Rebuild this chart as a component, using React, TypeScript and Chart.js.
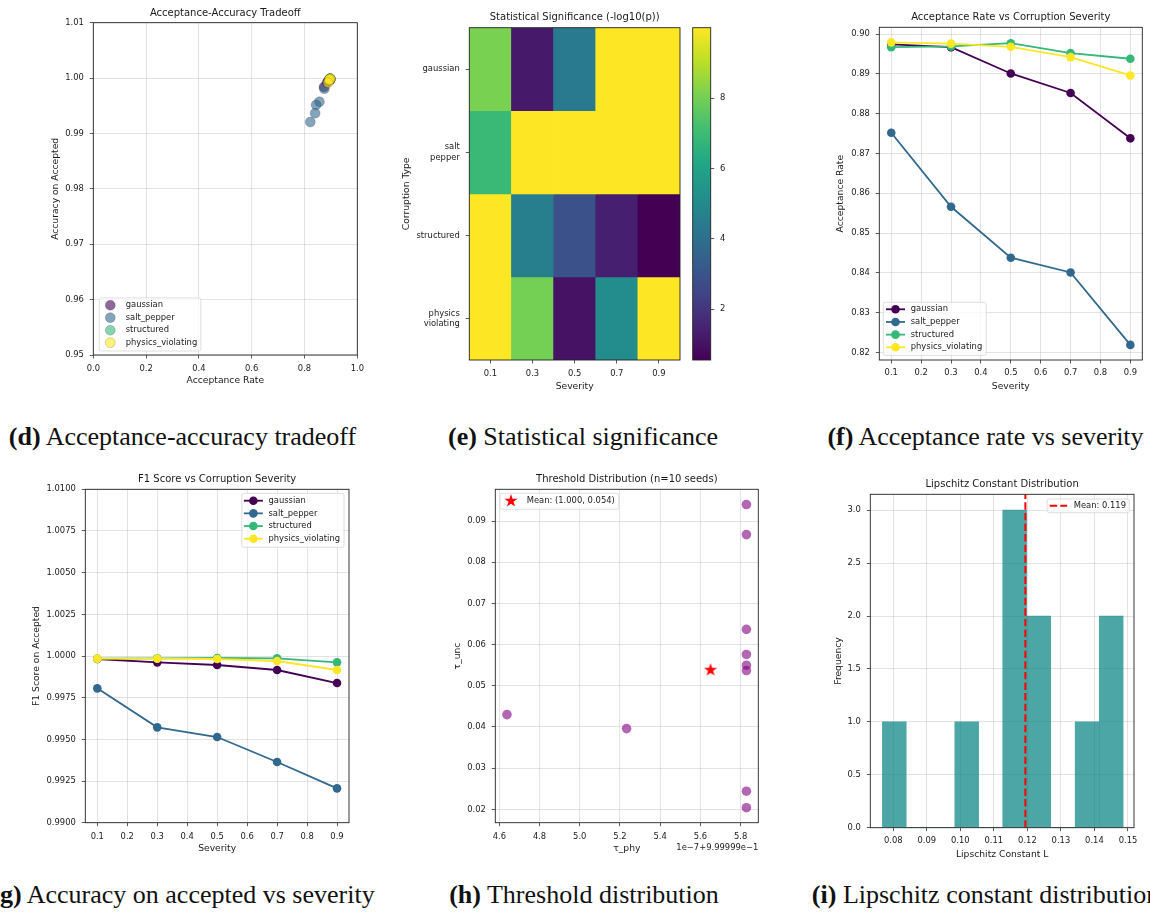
import React, { useEffect, useRef } from 'react';
import { Chart, registerables } from 'chart.js';
Chart.register(...registerables);

// ---------------- DATA ----------------
const corruptionTypes = ['gaussian', 'salt_pepper', 'structured', 'physics_violating'];
const severities = [0.1, 0.3, 0.5, 0.7, 0.9];
const severityLabels = ['0.1', '0.3', '0.5', '0.7', '0.9'];

// acceptance rate per severity
const accGaussian = [0.8974, 0.8967, 0.8901, 0.8852, 0.8738];
const accSaltPepper = [0.8752, 0.8566, 0.8438, 0.8401, 0.8219];
const accStructured = [0.8967, 0.8969, 0.8977, 0.8952, 0.8938];
const accPhysics = [0.8979, 0.8976, 0.8968, 0.8942, 0.8896];

// accuracy / F1 on accepted per severity
const f1Gaussian = [0.99982, 0.99962, 0.99946, 0.99916, 0.99838];
const f1SaltPepper = [0.99806, 0.99572, 0.99514, 0.99364, 0.99206];
const f1Structured = [0.99984, 0.99986, 0.99988, 0.99986, 0.99962];
const f1Physics = [0.99984, 0.99984, 0.99982, 0.9997, 0.99916];

// -log10(p) heatmap rows
const sigGaussian = [8.1, 1.2, 4.4, 10.0, 10.0];
const sigSaltPepper = [6.9, 10.0, 10.0, 10.0, 10.0];
const sigStructured = [10.0, 4.6, 2.9, 1.35, 0.55];
const sigPhysics = [10.0, 8.0, 1.0, 5.1, 10.0];

// thresholds over 10 seeds
const tauPhy = [0.9999994638, 0.9999995233, 0.9999995829, 0.9999995829, 0.9999995829,
  0.9999995829, 0.9999995829, 0.9999995829, 0.9999995829, 0.9999995829];
const tauUnc = [0.0430, 0.0396, 0.0940, 0.0867, 0.0637, 0.0576, 0.0550, 0.0537, 0.0244, 0.0204];

// Lipschitz histogram
const lipBinCenters = [0.0803, 0.0875, 0.0947, 0.1019, 0.1091, 0.1162, 0.1234, 0.1306, 0.1378, 0.1450];
const lipCounts = [1, 0, 0, 1, 0, 3, 2, 0, 1, 2];
const lipMean = 0.1194;

// tick values
const dXTicks = [0, 0.2, 0.4, 0.6, 0.8, 1.0];
const dYTicks = [0.95, 0.96, 0.97, 0.98, 0.99, 1.0, 1.01];
const sevTicks = [0.1, 0.2, 0.3, 0.4, 0.5, 0.6, 0.7, 0.8, 0.9];
const fYTicks = [0.82, 0.83, 0.84, 0.85, 0.86, 0.87, 0.88, 0.89, 0.90];
const gYTicks = [0.99, 0.9925, 0.995, 0.9975, 1.0, 1.0025, 1.005, 1.0075, 1.01];
const cbTicks = [2, 4, 6, 8];
const hXTicks = [0.99999946, 0.99999948, 0.9999995, 0.99999952, 0.99999954, 0.99999956, 0.99999958];
const hYTicks = [0.02, 0.03, 0.04, 0.05, 0.06, 0.07, 0.08, 0.09];
const iXTicks = [0.08, 0.09, 0.10, 0.11, 0.12, 0.13, 0.14, 0.15];
const iYTicks = [0, 0.5, 1.0, 1.5, 2.0, 2.5, 3.0];
const hOffset = 0.999999;
const hOffsetScale = 1e-7;

// ---------------- STYLE ----------------
const FONT = "'DejaVu Sans', 'Noto Sans', sans-serif";
const TXT = '#1a1a1a';
const TICK_FS = 8.4, LABEL_FS = 9.2, TITLE_FS = 10, LEG_FS = 8.4;
const LH = LABEL_FS * 1.2;
const GRID = 'rgba(176,176,176,0.35)';
const seriesColors = ['#440154', '#31688e', '#35b779', '#fde725'];
const VIRIDIS = [[68, 1, 84], [72, 36, 117], [65, 68, 135], [53, 95, 141], [42, 120, 142], [33, 145, 140],
  [34, 168, 132], [68, 191, 112], [122, 209, 81], [189, 223, 38], [253, 231, 37]];

function viridis(t: number) {
  t = Math.max(0, Math.min(1, t));
  const s = t * 10;
  const i = Math.min(9, Math.floor(s));
  const f = s - i;
  const a = VIRIDIS[i], b = VIRIDIS[i + 1];
  return `rgb(${Math.round(a[0] + (b[0] - a[0]) * f)},${Math.round(a[1] + (b[1] - a[1]) * f)},${Math.round(a[2] + (b[2] - a[2]) * f)})`;
}
function rgba(hex: string, a: number) {
  const n = parseInt(hex.slice(1), 16);
  return `rgba(${(n >> 16) & 255},${(n >> 8) & 255},${n & 255},${a})`;
}

let starCanvas: HTMLCanvasElement | null = null;
function getStar() {
  if (starCanvas) return starCanvas;
  const R = 6.9, size = 16;
  const c = document.createElement('canvas');
  c.width = size; c.height = size;
  const ctx = c.getContext('2d')!;
  ctx.translate(size / 2, size / 2);
  ctx.beginPath();
  for (let k = 0; k < 10; k++) {
    const ang = -Math.PI / 2 + k * Math.PI / 5;
    const r = k % 2 === 0 ? R : R * 0.382;
    const x = r * Math.cos(ang), y = r * Math.sin(ang);
    if (k === 0) ctx.moveTo(x, y); else ctx.lineTo(x, y);
  }
  ctx.closePath();
  ctx.fillStyle = 'red';
  ctx.fill();
  starCanvas = c;
  return c;
}

// ---------------- GEOMETRY ----------------
type Rect = { l: number; t: number; r: number; b: number };
function makeGeom(p: Rect, yTitleX: number, xTitleY: number) {
  const left = Math.floor(yTitleX - LH / 2) - 1;
  const top = Math.floor(p.t - 30);
  const right = Math.ceil(p.r + 18);
  const bottom = Math.ceil(xTitleY + LH / 2) + 1;
  return {
    left, top, width: right - left, height: bottom - top,
    padTop: p.t - top, padRight: right - p.r,
    yAxisW: p.l - left, xAxisH: bottom - p.b,
    yTitlePad: yTitleX - LH / 2 - left, xTitlePad: bottom - xTitleY - LH / 2,
  };
}
const gD = makeGeom({ l: 93.3, t: 22.7, r: 357.3, b: 355 }, 55.7, 381);
const gE = makeGeom({ l: 469.3, t: 27.7, r: 680, b: 360 }, 406.7, 386.7);
const gF = makeGeom({ l: 879.3, t: 27.3, r: 1142.3, b: 360 }, 840.7, 386.7);
const gG = makeGeom({ l: 85.3, t: 489.3, r: 349, b: 822.7 }, 36.7, 849);
const gH = makeGeom({ l: 495.3, t: 489.3, r: 758.3, b: 822.7 }, 457.7, 849);
const gI = makeGeom({ l: 870.3, t: 494.3, r: 1134, b: 827.7 }, 839, 854.3);
const cbPlot = { l: 692.7, t: 27.7, r: 710.7, b: 360 };
const gCB = {
  left: 684, top: 0, width: 60, height: 372,
  padLeft: cbPlot.l - 684, padTop: cbPlot.t, padBottom: 372 - cbPlot.b, yAxisW: 684 + 60 - cbPlot.r,
};

// ---------------- PLUGINS ----------------
const framePlugin = {
  id: 'mplFrame',
  afterDatasetsDraw(chart: any) {
    const { ctx, chartArea: ca } = chart;
    ctx.save();
    ctx.strokeStyle = '#222';
    ctx.lineWidth = 0.9;
    ctx.strokeRect(ca.left, ca.top, ca.right - ca.left, ca.bottom - ca.top);
    ctx.restore();
  },
};
const titlePlugin = {
  id: 'mplTitle',
  afterDraw(chart: any, _a: any, o: any) {
    if (!o || !o.text) return;
    const { ctx, chartArea: ca } = chart;
    ctx.save();
    ctx.font = `${TITLE_FS}px ${FONT}`;
    ctx.fillStyle = TXT;
    ctx.textAlign = 'center';
    ctx.textBaseline = 'middle';
    ctx.fillText(o.text, (ca.left + ca.right) / 2, ca.top + o.dy);
    ctx.restore();
  },
};
const offsetPlugin = {
  id: 'mplOffset',
  afterDraw(chart: any, _a: any, o: any) {
    if (!o || !o.text) return;
    const { ctx, chartArea: ca } = chart;
    ctx.save();
    ctx.font = `${TICK_FS}px ${FONT}`;
    ctx.fillStyle = TXT;
    ctx.textAlign = 'right';
    ctx.textBaseline = 'middle';
    ctx.fillText(o.text, ca.right, ca.bottom + o.dy);
    ctx.restore();
  },
};
const legendPlugin = {
  id: 'mplLegend',
  afterDraw(chart: any, _a: any, o: any) {
    if (!o || !o.loc) return;
    const ctx = chart.ctx, ca = chart.chartArea;
    const items = chart.data.datasets.filter((d: any) => d.label && !d.noLegend);
    if (!items.length) return;
    ctx.save();
    ctx.font = `${LEG_FS}px ${FONT}`;
    const maxW = Math.max(...items.map((d: any) => ctx.measureText(d.label).width));
    const w = o.textX + maxW + o.padR;
    const h = o.padT + o.rowH * (items.length - 1) + o.padB;
    let x0: number, y0: number;
    if (o.loc === 'lower left') { x0 = ca.left + o.dx; y0 = ca.bottom - o.dy - h; }
    else if (o.loc === 'upper left') { x0 = ca.left + o.dx; y0 = ca.top + o.dy; }
    else { x0 = ca.right - o.dx - w; y0 = ca.top + o.dy; }
    ctx.beginPath();
    const rr = 2;
    ctx.moveTo(x0 + rr, y0);
    ctx.arcTo(x0 + w, y0, x0 + w, y0 + h, rr);
    ctx.arcTo(x0 + w, y0 + h, x0, y0 + h, rr);
    ctx.arcTo(x0, y0 + h, x0, y0, rr);
    ctx.arcTo(x0, y0, x0 + w, y0, rr);
    ctx.closePath();
    ctx.fillStyle = 'rgba(255,255,255,0.8)';
    ctx.fill();
    ctx.strokeStyle = '#d6d6d6';
    ctx.lineWidth = 0.8;
    ctx.stroke();
    items.forEach((d: any, i: number) => {
      const y = y0 + o.padT + i * o.rowH;
      const cx = x0 + o.hx;
      const kind = d.legendKind;
      if (kind === 'scatter') {
        ctx.beginPath();
        ctx.arc(cx, y, d.pointRadius, 0, Math.PI * 2);
        ctx.fillStyle = d.backgroundColor;
        ctx.fill();
        ctx.strokeStyle = d.borderColor;
        ctx.lineWidth = d.borderWidth;
        ctx.stroke();
      } else if (kind === 'line') {
        ctx.beginPath();
        ctx.moveTo(cx - 9.5, y);
        ctx.lineTo(cx + 9.5, y);
        ctx.strokeStyle = d.borderColor;
        ctx.lineWidth = d.borderWidth;
        ctx.stroke();
        ctx.beginPath();
        ctx.arc(cx, y, d.pointRadius, 0, Math.PI * 2);
        ctx.fillStyle = d.pointBackgroundColor;
        ctx.fill();
      } else if (kind === 'star') {
        const img = getStar();
        ctx.drawImage(img, cx - img.width / 2, y - img.height / 2);
      } else if (kind === 'dashed') {
        ctx.beginPath();
        ctx.setLineDash(d.borderDash);
        ctx.moveTo(cx - 8.7, y);
        ctx.lineTo(cx + 8.7, y);
        ctx.strokeStyle = d.borderColor;
        ctx.lineWidth = d.borderWidth;
        ctx.stroke();
        ctx.setLineDash([]);
      }
      ctx.fillStyle = TXT;
      ctx.textAlign = 'left';
      ctx.textBaseline = 'middle';
      ctx.fillText(d.label, x0 + o.textX, y);
    });
    ctx.restore();
  },
};
const PLUGINS = [framePlugin, titlePlugin, legendPlugin, offsetPlugin];

// ---------------- AXIS HELPERS ----------------
function tickFont() { return { family: FONT, size: TICK_FS }; }
function gridOpts(onArea: boolean) {
  return { drawOnChartArea: onArea, color: GRID, lineWidth: 1, drawTicks: true, tickLength: 3.5, tickColor: '#333', tickWidth: 0.8, offset: false };
}
function xAxis(g: any, o: any) {
  const ax: any = {
    type: o.type || 'linear', position: 'bottom',
    afterFit: (s: any) => { s.height = g.xAxisH; },
    ticks: { font: tickFont(), color: TXT, padding: o.tickPad, autoSkip: false, maxRotation: 0 },
    grid: gridOpts(o.grid !== false),
    border: { display: false },
    title: { display: true, text: o.title, font: { family: FONT, size: LABEL_FS }, color: TXT, padding: { top: 0, bottom: g.xTitlePad } },
  };
  if (o.min !== undefined) ax.min = o.min;
  if (o.max !== undefined) ax.max = o.max;
  if (o.offset !== undefined) ax.offset = o.offset;
  if (o.ticksAt) ax.afterBuildTicks = (s: any) => { s.ticks = o.ticksAt.map((v: number) => ({ value: v })); };
  if (o.fmt) ax.ticks.callback = o.fmt;
  return ax;
}
function yAxis(g: any, o: any) {
  const ax: any = {
    type: 'linear', position: o.position || 'left', reverse: !!o.reverse,
    afterFit: (s: any) => { s.width = g.yAxisW; },
    ticks: { font: tickFont(), color: TXT, padding: o.tickPad ?? 6, autoSkip: false },
    grid: gridOpts(o.grid !== false),
    border: { display: false },
  };
  if (o.min !== undefined) ax.min = o.min;
  if (o.max !== undefined) ax.max = o.max;
  if (o.ticksAt) ax.afterBuildTicks = (s: any) => { s.ticks = o.ticksAt.map((v: number) => ({ value: v })); };
  if (o.fmt) ax.ticks.callback = o.fmt;
  if (o.title) ax.title = { display: true, text: o.title, font: { family: FONT, size: LABEL_FS }, color: TXT, padding: { top: g.yTitlePad, bottom: 0 } };
  return ax;
}
function baseOptions(g: any, o: any) {
  return {
    responsive: false, animation: false, devicePixelRatio: 1, events: [],
    layout: { padding: { left: 0, top: g.padTop, right: g.padRight, bottom: 0 } },
    scales: o.scales,
    plugins: {
      legend: { display: false }, tooltip: { enabled: false },
      mplTitle: o.title || {}, mplLegend: o.legend || {}, mplOffset: o.offset || {},
    },
  };
}

const accAll = [accGaussian, accSaltPepper, accStructured, accPhysics];
const f1All = [f1Gaussian, f1SaltPepper, f1Structured, f1Physics];
const sigAll = [sigGaussian, sigSaltPepper, sigStructured, sigPhysics];
const cbMin = Math.min(...sigAll.flat());
const cbMax = Math.max(...sigAll.flat());
const rowTickLabels = corruptionTypes.map((s) => s.split('_'));

// ---------------- CONFIGS ----------------
function cfgD() {
  const g = gD;
  return {
    type: 'scatter',
    data: {
      datasets: corruptionTypes.map((name, k) => ({
        label: name, legendKind: 'scatter',
        data: accAll[k].map((x, i) => ({ x, y: f1All[k][i] })),
        backgroundColor: rgba(seriesColors[k], 0.6), borderColor: 'rgba(0,0,0,0.3)', borderWidth: 0.5,
        pointRadius: 5, pointHoverRadius: 5, order: 3 - k,
      })),
    },
    options: baseOptions(g, {
      scales: {
        x: xAxis(g, { min: 0, max: 1, ticksAt: dXTicks, fmt: (v: number) => v.toFixed(1), title: 'Acceptance Rate', tickPad: 5.5 }),
        y: yAxis(g, { min: 0.95, max: 1.01, ticksAt: dYTicks, fmt: (v: number) => v.toFixed(2), title: 'Accuracy on Accepted' }),
      },
      title: { text: 'Acceptance-Accuracy Tradeoff', dy: -9.4 },
      legend: { loc: 'lower left', dx: 6, dy: 4, textX: 26.4, hx: 11, padT: 7.3, rowH: 12.5, padB: 8.3, padR: 3.6 },
    }),
    plugins: PLUGINS,
  };
}

function cfgE() {
  const g = gE;
  return {
    type: 'bar',
    data: {
      labels: severityLabels,
      datasets: sigAll.map((row, r) => ({
        label: corruptionTypes[r], noLegend: true,
        data: row.map(() => [r, r + 1]),
        backgroundColor: row.map((v) => viridis((v - cbMin) / (cbMax - cbMin))),
        borderWidth: 0, barPercentage: 1, categoryPercentage: 1, grouped: false,
      })),
    },
    options: baseOptions(g, {
      scales: {
        x: xAxis(g, { type: 'category', offset: true, grid: false, title: 'Severity', tickPad: 4.8 }),
        y: yAxis(g, {
          min: 0, max: 4, reverse: true, grid: false, ticksAt: [0.5, 1.5, 2.5, 3.5],
          fmt: (_v: number, i: number) => rowTickLabels[i], title: 'Corruption Type',
        }),
      },
      title: { text: 'Statistical Significance (-log10(p))', dy: -10.4 },
    }),
    plugins: PLUGINS,
  };
}

function cbGradient(c: any) {
  const chart = c.chart;
  const ca = chart.chartArea;
  if (!ca || !isFinite(ca.top) || !isFinite(ca.bottom)) return viridis(0.5);
  const grad = chart.ctx.createLinearGradient(0, ca.bottom, 0, ca.top);
  VIRIDIS.forEach((col, i) => grad.addColorStop(i / 10, `rgb(${col[0]},${col[1]},${col[2]})`));
  return grad;
}

function cfgCB() {
  const g = gCB;
  return {
    type: 'bar',
    data: {
      labels: [''],
      datasets: [{
        data: [[cbMin, cbMax]], borderWidth: 0, barPercentage: 1, categoryPercentage: 1, noLegend: true,
        backgroundColor: cbGradient,
      }],
    },
    options: {
      responsive: false, animation: false, devicePixelRatio: 1, events: [],
      layout: { padding: { left: g.padLeft, top: g.padTop, right: 0, bottom: g.padBottom } },
      scales: {
        x: { display: false },
        y: {
          type: 'linear', position: 'right', min: cbMin, max: cbMax,
          afterFit: (s: any) => { s.width = g.yAxisW; },
          afterBuildTicks: (s: any) => { s.ticks = cbTicks.map((v) => ({ value: v })); },
          ticks: { font: tickFont(), color: TXT, padding: 5.8, autoSkip: false, callback: (v: number) => String(v) },
          grid: gridOpts(false), border: { display: false },
        },
      },
      plugins: { legend: { display: false }, tooltip: { enabled: false }, mplTitle: {}, mplLegend: {}, mplOffset: {} },
    },
    plugins: PLUGINS,
  };
}

function lineCfg(g: any, values: number[][], o: any) {
  return {
    type: 'line',
    data: {
      datasets: corruptionTypes.map((name, k) => ({
        label: name, legendKind: 'line',
        data: severities.map((x, i) => ({ x, y: values[k][i] })),
        borderColor: seriesColors[k], borderWidth: 1.8,
        pointRadius: 4.3, pointHoverRadius: 4.3, pointBackgroundColor: seriesColors[k], pointBorderWidth: 0,
        order: 3 - k, clip: false,
      })),
    },
    options: baseOptions(g, {
      scales: {
        x: xAxis(g, { min: 0.06, max: 0.94, ticksAt: sevTicks, fmt: (v: number) => v.toFixed(1), title: 'Severity', tickPad: o.xPad }),
        y: yAxis(g, { min: o.yMin, max: o.yMax, ticksAt: o.yTicks, fmt: o.yFmt, title: o.yTitle }),
      },
      title: { text: o.title, dy: -10 },
      legend: o.legend,
    }),
    plugins: PLUGINS,
  };
}
function cfgF() {
  return lineCfg(gF, accAll, {
    xPad: 4.2, yMin: 0.8181, yMax: 0.9017, yTicks: fYTicks, yFmt: (v: number) => v.toFixed(2),
    yTitle: 'Acceptance Rate', title: 'Acceptance Rate vs Corruption Severity',
    legend: { loc: 'lower left', dx: 4, dy: 4.7, textX: 27.4, hx: 12.2, padT: 7, rowH: 12.67, padB: 8, padR: 4 },
  });
}
function cfgG() {
  return lineCfg(gG, f1All, {
    xPad: 5.5, yMin: 0.99, yMax: 1.01, yTicks: gYTicks, yFmt: (v: number) => v.toFixed(4),
    yTitle: 'F1 Score on Accepted', title: 'F1 Score vs Corruption Severity',
    legend: { loc: 'upper right', dx: 5, dy: 4, textX: 26.6, hx: 11.5, padT: 7.4, rowH: 12.67, padB: 8.6, padR: 4 },
  });
}

function cfgH() {
  const g = gH;
  const meanPhy = tauPhy.reduce((a, b) => a + b, 0) / tauPhy.length;
  const meanUnc = tauUnc.reduce((a, b) => a + b, 0) / tauUnc.length;
  return {
    type: 'scatter',
    data: {
      datasets: [
        {
          label: 'seeds', noLegend: true,
          data: tauPhy.map((x, i) => ({ x, y: tauUnc[i] })),
          backgroundColor: 'rgba(128,0,128,0.6)', borderWidth: 0, pointRadius: 4.8, pointHoverRadius: 4.8, order: 1,
        },
        {
          label: `Mean: (${meanPhy.toFixed(3)}, ${meanUnc.toFixed(3)})`, legendKind: 'star',
          data: [{ x: meanPhy, y: meanUnc }], pointStyle: getStar(), pointRadius: 7, order: 0,
        },
      ],
    },
    options: baseOptions(g, {
      scales: {
        x: xAxis(g, {
          min: 0.999999458, max: 0.9999995888, ticksAt: hXTicks,
          fmt: (v: number) => ((v - hOffset) / hOffsetScale).toFixed(1), title: '\u03c4_phy', tickPad: 5.5,
        }),
        y: yAxis(g, { min: 0.01676, max: 0.0977, ticksAt: hYTicks, fmt: (v: number) => v.toFixed(2), title: '\u03c4_unc' }),
      },
      title: { text: 'Threshold Distribution (n=10 seeds)', dy: -10 },
      legend: { loc: 'upper left', dx: 4.7, dy: 4, textX: 26.7, hx: 11, padT: 7.7, rowH: 0, padB: 8.3, padR: 4 },
      offset: { text: '1e\u22127+9.99999e\u22121', dy: 25 },
    }),
    plugins: PLUGINS,
  };
}

function cfgI() {
  const g = gI;
  const yMax = 3.15;
  return {
    type: 'bar',
    data: {
      datasets: [
        {
          type: 'bar', label: 'counts', noLegend: true,
          data: lipBinCenters.map((x, i) => ({ x, y: lipCounts[i] })),
          backgroundColor: 'rgba(0,128,128,0.7)', borderWidth: 0, barPercentage: 1, categoryPercentage: 1, order: 1,
        },
        {
          type: 'line', label: `Mean: ${lipMean.toFixed(3)}`, legendKind: 'dashed',
          data: [{ x: lipMean, y: 0 }, { x: lipMean, y: yMax }],
          borderColor: 'red', borderWidth: 2, borderDash: [7.4, 3.2], pointRadius: 0, order: 0,
        },
      ],
    },
    options: baseOptions(g, {
      scales: {
        x: xAxis(g, { min: 0.07314, max: 0.1518, offset: false, ticksAt: iXTicks, fmt: (v: number) => v.toFixed(2), title: 'Lipschitz Constant L', tickPad: 4.5 }),
        y: yAxis(g, { min: 0, max: yMax, ticksAt: iYTicks, fmt: (v: number) => v.toFixed(1), title: 'Frequency' }),
      },
      title: { text: 'Lipschitz Constant Distribution', dy: -10 },
      legend: { loc: 'upper right', dx: 4.7, dy: 4.7, textX: 26.6, hx: 11.3, padT: 6.7, rowH: 0, padB: 7, padR: 3.3 },
    }),
    plugins: PLUGINS,
  };
}

const PANELS = [
  { g: gD, cfg: cfgD },
  { g: gE, cfg: cfgE },
  { g: gCB, cfg: cfgCB },
  { g: gF, cfg: cfgF },
  { g: gG, cfg: cfgG },
  { g: gH, cfg: cfgH },
  { g: gI, cfg: cfgI },
];

const CAPTIONS = [
  { tag: '(d)', text: 'Acceptance-accuracy tradeoff', cx: 182.5, top: 423.5 },
  { tag: '(e)', text: 'Statistical significance', cx: 583, top: 423.5 },
  { tag: '(f)', text: 'Acceptance rate vs severity', cx: 985.5, top: 423.5 },
  { tag: '(g)', text: 'Accuracy on accepted vs severity', cx: 183, top: 881.5 },
  { tag: '(h)', text: 'Threshold distribution', cx: 584, top: 881.5 },
  { tag: '(i)', text: 'Lipschitz constant distribution', cx: 985.5, top: 881.5 },
];

export default function App() {
  const refs = useRef<(HTMLCanvasElement | null)[]>([]);
  useEffect(() => {
    const charts: any[] = [];
    PANELS.forEach((p, i) => {
      try {
        charts.push(new Chart(refs.current[i] as HTMLCanvasElement, p.cfg() as any));
      } catch (e) {
        console.error(e);
      }
    });
    return () => charts.forEach((c) => c.destroy());
  }, []);
  return (
    <div style={{ position: 'absolute', left: 0, top: 0, width: 1150, height: 915, overflow: 'hidden', background: '#fff' }}>
      {PANELS.map((p, i) => (
        <canvas
          key={i}
          ref={(el) => { refs.current[i] = el; }}
          width={p.g.width}
          height={p.g.height}
          style={{ position: 'absolute', left: p.g.left, top: p.g.top, width: p.g.width, height: p.g.height }}
        />
      ))}
      {CAPTIONS.map((c, i) => (
        <div
          key={'c' + i}
          style={{
            position: 'absolute', left: c.cx, top: c.top, transform: 'translateX(-50%)', whiteSpace: 'nowrap',
            fontFamily: "'Liberation Serif', 'Times New Roman', serif", fontSize: 26, lineHeight: '26px', color: '#111',
          }}
        >
          <b>{c.tag}</b> {c.text}
        </div>
      ))}
    </div>
  );
}
